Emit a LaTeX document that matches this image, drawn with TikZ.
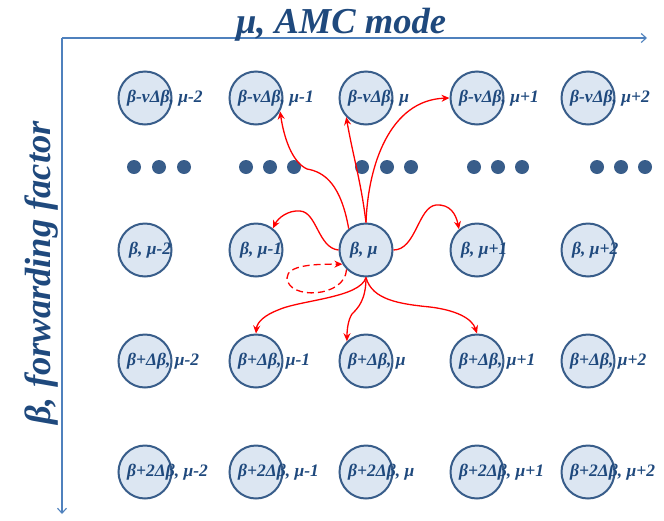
\documentclass[tikz,border=0pt]{standalone}
\usepackage{fontspec}
\setmainfont{Liberation Serif}
\usetikzlibrary{arrows.meta}
\definecolor{txtblue}{HTML}{1F497D}
\definecolor{ringblue}{HTML}{385D8A}
\definecolor{fillblue}{HTML}{DCE6F2}
\definecolor{axisblue}{HTML}{4F81BD}
\definecolor{dotblue}{HTML}{385D8A}
\tikzset{
  state/.style={circle, draw=ringblue, fill=fillblue, line width=2pt, minimum size=53pt, inner sep=0pt},
  lab/.style={anchor=base west, inner sep=0pt, text=txtblue, font=\fontsize{17.5}{18}\selectfont\bfseries\itshape},
  dotnode/.style={circle, fill=dotblue, minimum size=14pt, inner sep=0pt},
  axis/.style={draw=axisblue, line width=1.1pt, -{Straight Barb[length=5pt,width=9pt,line width=1.1pt]}},
  redarr/.style={draw=red, line width=1.3pt, -{Stealth[length=8pt,width=7pt]}},
  title/.style={text=txtblue, inner sep=0pt, font=\fontsize{36.5}{38}\selectfont\bfseries\itshape}
}
\begin{document}
\begin{tikzpicture}[x=1pt,y=-1pt]
\useasboundingbox (0,0) rectangle (664,520);
% axes
\coordinate (origin) at (62,38);
\coordinate (xend) at (647,38);
\coordinate (yend) at (62,514);
\draw[axis] (origin) -- (xend);
\draw[axis] (origin) -- (yend);
\node[title, anchor=base] (xlab) at (341,33) {μ, AMC mode};
\node[title, anchor=base, rotate=90] (ylab) at (50,273) {β, forwarding factor};
% grid of states
\def\colxs{145/1,256/2,366/3,477/4,588/5}
\foreach \x/\c in \colxs {
  \node[state] (n1\c) at (\x,98) {};
  \node[state] (n3\c) at (\x,250) {};
  \node[state] (n4\c) at (\x,361) {};
  \node[state] (n5\c) at (\x,472) {};
}
% labels
\foreach \c/\t in {1/{μ-2},2/{μ-1},3/{μ},4/{μ+1},5/{μ+2}} {
  \node[lab] (l1\c) at ([xshift=-18pt,yshift=-4.5pt]n1\c.center) {β-vΔβ, \t};
  \node[lab] (l3\c) at ([xshift=-16pt,yshift=-4.5pt]n3\c.center) {β, \t};
  \node[lab] (l4\c) at ([xshift=-18pt,yshift=-4.5pt]n4\c.center) {β+Δβ, \t};
  \node[lab] (l5\c) at ([xshift=-18pt,yshift=-4.5pt]n5\c.center) {β+2Δβ, \t};
}
% dots
\foreach \x [count=\i] in {134,159,184,246,270,294,362,387,411,474,498,522,597,621,645} {
  \node[dotnode] (d\i) at (\x,167) {};
}
% transitions
\draw[redarr] (n33.129) .. controls (341,185) and (325,172) .. (307,169) .. controls (292,162) and (284,138) .. (n12.-29);
\draw[redarr] (n33.north) to[out=97,in=-80] (n13.224);
\draw[redarr] (n33.north) .. controls (368,165) and (390,100) .. (n14.west);
\draw[redarr] (n33.west) .. controls (318,248) and (317,212) .. (300,211) .. controls (288,210) and (278,218) .. (n32.52);
\draw[redarr] (n33.east) .. controls (416,250) and (418,207) .. (436,205) .. controls (450,204) and (456,214) .. (n34.131);
\draw[redarr, dash pattern=on 7pt off 4pt] (n33.225) .. controls (345,298) and (288,300) .. (287,278) .. controls (287,265) and (315,264) .. (n33.211);
\draw[redarr] (n33.south) .. controls (360,298) and (300,300) .. (278,310) .. controls (265,315) and (257,322) .. (n42.north);
\draw[redarr] (n33.south) .. controls (366,300) and (358,308) .. (352,314) .. controls (348,320) and (347,330) .. (n43.134);
\draw[redarr] (n33.south) .. controls (372,300) and (400,304) .. (430,307) .. controls (455,310) and (472,318) .. (n44.north);
\end{tikzpicture}
\end{document}
